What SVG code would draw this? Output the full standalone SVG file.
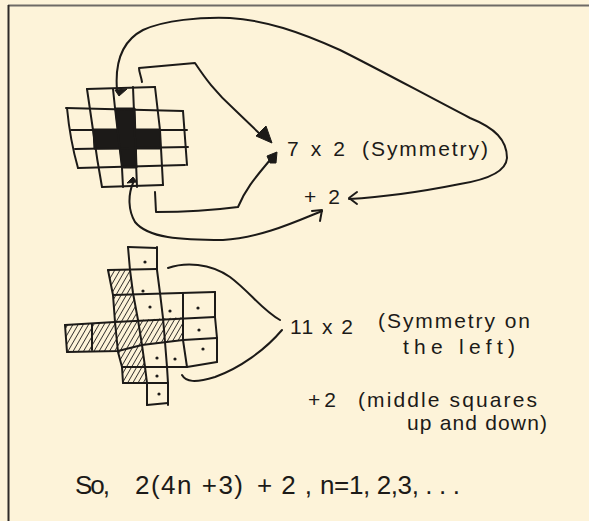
<svg xmlns="http://www.w3.org/2000/svg" width="589" height="521" viewBox="0 0 589 521">
<defs>
<style>
.ln{fill:none;stroke:#1c1a18;stroke-width:2;stroke-linecap:round;stroke-linejoin:round}
.cn{fill:none;stroke:#1c1a18;stroke-width:2;stroke-linecap:round;stroke-linejoin:round}
.fl{fill:#1c1a18;stroke:#1c1a18;stroke-width:1;stroke-linejoin:round}
.ht{fill:url(#hatch);stroke:none}
.dot{fill:#1c1a18}
.t{font-family:"Liberation Sans","DejaVu Sans",sans-serif;fill:#1c1a18;font-size:21px}
.tb{font-family:"Liberation Sans","DejaVu Sans",sans-serif;fill:#1c1a18;font-size:26px}
</style>
<pattern id="hatch" patternUnits="userSpaceOnUse" width="4.5" height="4.5" patternTransform="rotate(30)">
<line x1="0" y1="0" x2="0" y2="4.5" stroke="#1c1a18" stroke-width="1.6"/>
</pattern>
</defs>
<rect x="0" y="0" width="589" height="521" fill="#fdf3d9"/>
<line x1="8" y1="5.5" x2="589" y2="5.5" stroke="#6e6a66" stroke-width="2"/>
<line x1="8.5" y1="5" x2="8.5" y2="521" stroke="#2e2a28" stroke-width="2"/>

<g id="grid-top">
<polygon class="fl" points="115,108 135,108 137,168 122,168"/>
<polygon class="fl" points="93,129 160,129 160,149 94,149"/>
<path class="ln" d="M87,89 L155,87 M66,108 L183,111 M71,130 L187,130 M75,149 L188,147 M78,168 L185,165 M102,187 L163,185"/>
<path class="ln" d="M67,108 Q70,140 78,168 M87,89 Q90,110 93,130 Q97,160 102,187 M113,89 L115,108 L122,168 L123,187 M133,87 L137,187 M155,87 L160,130 L163,185 M183,111 L187,165"/>
<polygon class="fl" points="115,90 127,89 119,96"/>
<polygon class="fl" points="127,183 137,182 133,177"/>
</g>

<g id="grid-bottom">
<polygon class="ht" points="108,270 130,270 133,294 113,295"/>
<polygon class="ht" points="113,295 133,294 138,320 115,322"/>
<polygon class="ht" points="65,325 115,322 138,320 183,317 183,340 142,345 118,351 67,352"/>
<polygon class="ht" points="118,351 142,345 145,367 122,367"/>
<polygon class="ht" points="122,367 145,367 147,383 123,383"/>
<path class="ln" d="M128,247 L130,270 L133,293 L138,320 L142,345 L145,367 L147,383 L147,405"/>
<path class="ln" d="M157,247 L157,270 L160,293 L163,318 L165,342 L167,367 L168,383 L168,405"/>
<path class="ln" d="M108,270 L113,295 L115,322 L118,352 L122,367 L123,383"/>
<path class="ln" d="M128,247 L157,248 M108,270 L157,269 M113,295 L215,292 M65,325 L115,322 L215,317 M67,352 L118,351 L142,345 L183,340 L217,338 M122,367 L187,367 L217,362 M123,383 L168,383 M147,405 L168,403"/>
<path class="ln" d="M65,325 L67,352 M92,324 L92,350 M183,293 L183,317 L183,340 L187,367 M215,292 L215,317 L217,338 L217,362"/>
<circle class="dot" cx="145" cy="262" r="1.6"/>
<circle class="dot" cx="143" cy="291" r="1.6"/>
<circle class="dot" cx="150" cy="307" r="1.6"/>
<circle class="dot" cx="170" cy="311" r="1.6"/>
<circle class="dot" cx="198" cy="308" r="1.6"/>
<circle class="dot" cx="199" cy="330" r="1.6"/>
<circle class="dot" cx="157" cy="358" r="1.6"/>
<circle class="dot" cx="175" cy="359" r="1.6"/>
<circle class="dot" cx="203" cy="349" r="1.6"/>
<circle class="dot" cx="157" cy="376" r="1.6"/>
<circle class="dot" cx="159" cy="394" r="1.6"/>
</g>

<g id="connectors">
<path class="cn" d="M117,90 C115,65 120,42 143,30 C165,20 200,17 230,18 C265,20 300,32 340,50 C380,70 420,92 470,118 C495,128 507,140 507,158 C506,172 485,180 460,184 C420,192 385,197 349,199"/>
<path class="cn" d="M357,192 L349,198 L357,204"/>
<path class="cn" d="M142,82 C141,76 139,72 139,68 L195,63 C205,78 215,92 235,110 L262,136"/>
<polygon class="fl" points="272,143 256,136 266,126"/>
<path class="cn" d="M155,192 L156,212 C190,212 215,210 238,207 C245,190 255,178 265,166 L270,160"/>
<polygon class="fl" points="267,156 277,152 276,163 270,163"/>
<path class="cn" d="M133,183 C128,195 128,210 135,222 C148,238 180,240 223,240 C260,238 295,222 322,211"/>
<path class="cn" d="M312,211 L322,210 L320,221"/>
<path class="cn" d="M168,268 C185,262 210,263 230,277 C250,292 262,310 280,320"/>
<path class="cn" d="M182,375 C186,382 195,383 215,377 C240,368 265,350 282,330"/>
</g>

<g id="labels">
<text class="t" x="287" y="156" textLength="58" lengthAdjust="spacing">7 x 2</text>
<text class="t" x="362" y="156" textLength="126" lengthAdjust="spacing">(Symmetry)</text>
<text class="t" x="304" y="204" font-size="18" textLength="36" lengthAdjust="spacing">+ 2</text>
<text class="t" x="290" y="334" textLength="63" lengthAdjust="spacing">11 x 2</text>
<text class="t" x="378" y="328" textLength="152" lengthAdjust="spacing">(Symmetry on</text>
<text class="t" x="403" y="354" textLength="112" lengthAdjust="spacing">the left)</text>
<text class="t" x="308" y="407" textLength="28" lengthAdjust="spacing">+ 2</text>
<text class="t" x="358" y="407" textLength="179" lengthAdjust="spacing">(middle squares</text>
<text class="t" x="407" y="430" textLength="140" lengthAdjust="spacing">up and down)</text>
<text class="tb" x="75" y="494" textLength="35" lengthAdjust="spacing">So,</text>
<text class="tb" x="135" y="494" textLength="108" lengthAdjust="spacing">2(4n +3)</text>
<text class="tb" x="257" y="494" textLength="55" lengthAdjust="spacing">+ 2 ,</text>
<text class="tb" x="320" y="494" textLength="140" lengthAdjust="spacing">n=1, 2,3, . . .</text>
</g>
</svg>
